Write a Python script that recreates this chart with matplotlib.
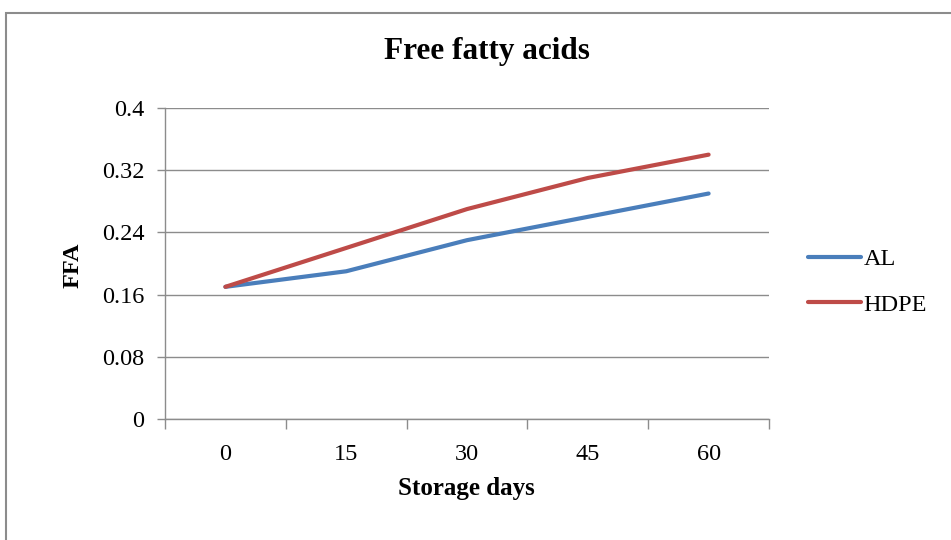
import matplotlib
matplotlib.use("Agg")
import matplotlib.pyplot as plt
from matplotlib.patches import Rectangle

days = ["0", "15", "30", "45", "60"]
al = [0.17, 0.19, 0.23, 0.26, 0.29]
hdpe = [0.17, 0.22, 0.27, 0.31, 0.34]
yticks = [0, 0.08, 0.16, 0.24, 0.32, 0.4]
ytick_labels = ["0", "0.08", "0.16", "0.24", "0.32", "0.4"]

plt.rcParams['font.family'] = ['Liberation Serif', 'DejaVu Serif']

W, H = 951, 540
fig = plt.figure(figsize=(W/100, H/100), dpi=100)
fig.patch.set_facecolor('white')

# outer chart frame
fig.patches.append(Rectangle((6/W, -0.1), 1.2, 1 - 13/H + 0.1, transform=fig.transFigure,
                             fill=False, edgecolor='#8c8c8c', linewidth=1.5))

ax = fig.add_axes([165/W, 1 - 419/H, (769-165)/W, (419-108)/H])
x = list(range(len(days)))
grid_c = '#8c8c8c'
l1, = ax.plot(x, al, color='#4A7EBB', linewidth=3, solid_capstyle='round', label='AL')
l2, = ax.plot(x, hdpe, color='#BE4B48', linewidth=3, solid_capstyle='round', label='HDPE')

ax.set_xlim(-0.5, len(days) - 0.5)
ax.set_ylim(0, 0.4)
ax.set_yticks(yticks)
ax.set_yticklabels(ytick_labels, fontsize=17.5)
ax.yaxis.grid(True, color=grid_c, linewidth=1)
ax.set_axisbelow(True)

ax.set_xticks(x)
ax.set_xticklabels(days, fontsize=17.5)
ax.set_xticks([i - 0.5 for i in range(len(days) + 1)], minor=True)
ax.tick_params(axis='x', which='major', length=0, pad=18)
ax.tick_params(axis='x', which='minor', length=7, color=grid_c, width=1)
ax.tick_params(axis='y', length=6, color=grid_c, width=1, pad=9)

for s in ['top', 'right']:
    ax.spines[s].set_visible(False)
for s in ['left', 'bottom']:
    ax.spines[s].set_color(grid_c)
    ax.spines[s].set_linewidth(1)

fig.text(487/W, 1 - 52/H, 'Free fatty acids', ha='center', va='center',
         fontsize=22.5, fontweight='bold')
fig.text(73/W, 1 - 265/H, 'FFA', ha='center', va='center', rotation=90,
         fontsize=17.5, fontweight='bold')
fig.text(466/W, 1 - 489/H, 'Storage days', ha='center', va='center',
         fontsize=18, fontweight='bold')

fig.legend(handles=[l1, l2], labels=['AL', 'HDPE'], loc='center left',
           bbox_to_anchor=(786/W, 1 - 282/H), frameon=False, fontsize=17.5,
           handlelength=2.2, handletextpad=0.1, labelspacing=0.95)

fig.savefig('out.png', dpi=100)
